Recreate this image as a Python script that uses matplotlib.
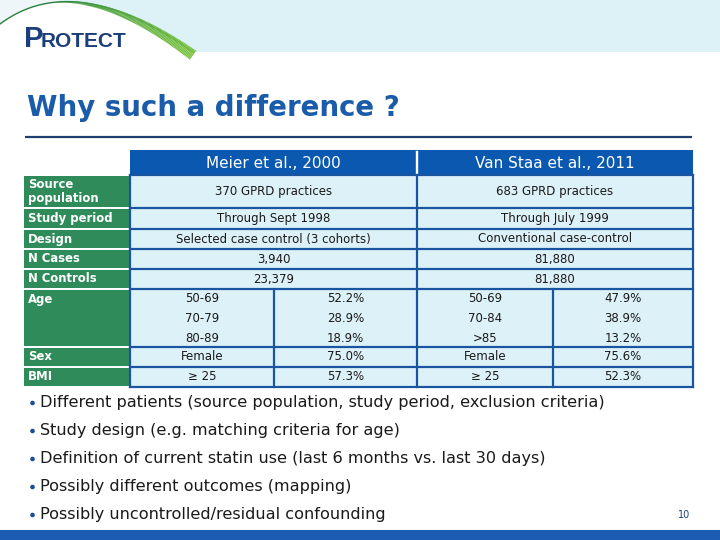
import numpy as np
import matplotlib
matplotlib.use("Agg")
import matplotlib.pyplot as plt
from matplotlib.patches import Rectangle, Polygon, Circle
from matplotlib.collections import LineCollection

# ---------------- data ----------------
title = "Why such a difference ?"
studies = ["Meier et al., 2000", "Van Staa et al., 2011"]
row_labels = ["Source\npopulation", "Study period", "Design", "N Cases", "N Controls", "Age", "Sex", "BMI"]
meier_simple = ["370 GPRD practices", "Through Sept 1998", "Selected case control (3 cohorts)", "3,940", "23,379"]
vanstaa_simple = ["683 GPRD practices", "Through July 1999", "Conventional case-control", "81,880", "81,880"]
meier_age_groups = ["50-69", "70-79", "80-89"]
meier_age_pct = ["52.2%", "28.9%", "18.9%"]
vanstaa_age_groups = ["50-69", "70-84", ">85"]
vanstaa_age_pct = ["47.9%", "38.9%", "13.2%"]
meier_sex = ["Female", "75.0%"]
vanstaa_sex = ["Female", "75.6%"]
meier_bmi = ["\u2265 25", "57.3%"]
vanstaa_bmi = ["\u2265 25", "52.3%"]
bullets = [
    "Different patients (source population, study period, exclusion criteria)",
    "Study design (e.g. matching criteria for age)",
    "Definition of current statin use (last 6 months vs. last 30 days)",
    "Possibly different outcomes (mapping)",
    "Possibly uncontrolled/residual confounding",
]
page_number = "10"

# ---------------- layout ----------------
W, H = 720, 540
fig = plt.figure(figsize=(7.2, 5.4), dpi=100)
ax = fig.add_axes([0, 0, 1, 1])
ax.set_xlim(0, W)
ax.set_ylim(H, 0)
ax.axis("off")

title_blue = "#1A5BAA"
header_blue = "#0B58B0"
border_blue = "#1A56A0"
cell_bg = "#DDF1F8"
green = "#2F8C5A"
banner = "#DDF2F7"
px = 0.72  # points per pixel

# banner
ax.add_patch(Rectangle((0, 0), W, 52, facecolor=banner, edgecolor="none", zorder=1))

# logo arc (quadratic bezier)
P0, P1, P2 = np.array([0, 24.0]), np.array([75, -32.0]), np.array([193, 52.0])
t = np.linspace(0, 1, 200)
curve = ((1 - t)[:, None] ** 2) * P0 + (2 * (1 - t) * t)[:, None] * P1 + (t[:, None] ** 2) * P2
poly = np.vstack([curve, [[193, 52], [0, 52]]])
ax.add_patch(Polygon(poly, closed=True, facecolor="white", edgecolor="none", zorder=2))
ax.add_patch(Rectangle((0, 0), 60, 20, facecolor="#EEF6F9", edgecolor="none", zorder=1.5))
# thin dark arc
ax.plot(curve[:, 0], curve[:, 1], color="#2B7F3C", lw=1.0, zorder=3)
# thick green band
segs = [curve[i:i + 2] for i in range(len(curve) - 1)]
tt = t[:-1]
v = np.clip((tt - 0.3) / 0.7, 0, 1)
widths = v ** 1.1 * 11.0 * px
cols = [(0.17 + 0.32 * a, 0.55 + 0.22 * a, 0.24 + 0.02 * a) for a in v]
segs2 = [s + np.array([0, 3.2]) * a for s, a in zip(segs, v)]
ax.add_collection(LineCollection(segs2, linewidths=widths, colors=cols, zorder=3, capstyle="butt"))

# logo text
ax.text(24, 47, "P", fontsize=21, fontweight="bold", color="#1B3F7A", family="Liberation Sans",
        va="baseline", ha="left", zorder=4)
ax.text(41, 47, "ROTECT", fontsize=15, fontweight="bold", color="#1B3F7A", family="Liberation Sans",
        va="baseline", ha="left", zorder=4)

# title
ax.text(27, 116, title, fontsize=19.9, fontweight="bold", color=title_blue, family="DejaVu Sans",
        va="baseline", ha="left")
ax.plot([25, 692], [137, 137], color="#1C3F70", lw=2.2 * px, solid_capstyle="butt")

# table geometry
x_lab0, x_lab1 = 24, 130
x_mid, x_right = 417, 693
x_msplit, x_vsplit = 274, 553
y_head0, y_head1 = 150, 175
row_tops = [175, 208, 229, 249, 269, 289, 347, 367]
y_bottom = 387
row_bots = row_tops[1:] + [y_bottom]

# header
ax.add_patch(Rectangle((x_lab1, y_head0), x_right - x_lab1, y_head1 - y_head0,
                       facecolor=header_blue, edgecolor="none", zorder=2))
ax.plot([x_mid, x_mid], [152, 173], color="white", lw=2.4 * px, zorder=3)
ax.text((x_lab1 + x_mid) / 2, 163, studies[0], fontsize=11, color="white", ha="center", va="center", zorder=4)
ax.text((x_mid + x_right) / 2, 163, studies[1], fontsize=11, color="white", ha="center", va="center", zorder=4)

# data area background
ax.add_patch(Rectangle((x_lab1, y_head1), x_right - x_lab1, y_bottom - y_head1,
                       facecolor=cell_bg, edgecolor="none", zorder=1))

# green label cells
lab_fs = 8.4
for lab, y0, y1 in zip(row_labels, row_tops, row_bots):
    ax.add_patch(Rectangle((x_lab0, y0 + 1), x_lab1 - x_lab0 - 1, y1 - y0 - 2,
                           facecolor=green, edgecolor="none", zorder=2))
    yc = 299 if lab == "Age" else (y0 + y1) / 2
    ax.text(28, yc, lab, fontsize=lab_fs, fontweight="bold", color="white",
            ha="left", va="center", linespacing=1.1, zorder=4)

# grid lines
lw = 2.2 * px
for y in row_tops + [y_bottom]:
    ax.plot([x_lab1, x_right], [y, y], color=border_blue, lw=lw, zorder=3, solid_capstyle="projecting")
for x in [x_lab1, x_mid, x_right]:
    ax.plot([x, x], [y_head1, y_bottom], color=border_blue, lw=lw, zorder=3)
for x in [x_msplit, x_vsplit]:
    ax.plot([x, x], [row_tops[5], y_bottom], color=border_blue, lw=lw, zorder=3)

fs = 8.5
tc = "#1A1A1A"
cm = (x_lab1 + x_mid) / 2
cv = (x_mid + x_right) / 2
for i in range(5):
    yc = (row_tops[i] + row_bots[i]) / 2
    ax.text(cm, yc, meier_simple[i], fontsize=fs, color=tc, ha="center", va="center", zorder=4)
    ax.text(cv, yc, vanstaa_simple[i], fontsize=fs, color=tc, ha="center", va="center", zorder=4)

c1 = (x_lab1 + x_msplit) / 2
c2 = (x_msplit + x_mid) / 2
c3 = (x_mid + x_vsplit) / 2
c4 = (x_vsplit + x_right) / 2
age_y = [299, 318.5, 338]
for j, y in enumerate(age_y):
    ax.text(c1, y, meier_age_groups[j], fontsize=fs, color=tc, ha="center", va="center", zorder=4)
    ax.text(c2, y, meier_age_pct[j], fontsize=fs, color=tc, ha="center", va="center", zorder=4)
    ax.text(c3, y, vanstaa_age_groups[j], fontsize=fs, color=tc, ha="center", va="center", zorder=4)
    ax.text(c4, y, vanstaa_age_pct[j], fontsize=fs, color=tc, ha="center", va="center", zorder=4)
for k, (mv, vv) in enumerate([(meier_sex, vanstaa_sex), (meier_bmi, vanstaa_bmi)]):
    yc = (row_tops[6 + k] + row_bots[6 + k]) / 2
    ax.text(c1, yc, mv[0], fontsize=fs, color=tc, ha="center", va="center", zorder=4)
    ax.text(c2, yc, mv[1], fontsize=fs, color=tc, ha="center", va="center", zorder=4)
    ax.text(c3, yc, vv[0], fontsize=fs, color=tc, ha="center", va="center", zorder=4)
    ax.text(c4, yc, vv[1], fontsize=fs, color=tc, ha="center", va="center", zorder=4)

# bullets
for i, b in enumerate(bullets):
    y = 403 + 28 * i
    ax.add_patch(Circle((32.5, y), 2.3, facecolor="#1A4F8F", edgecolor="none", zorder=4))
    ax.text(40, y, b, fontsize=11.6, color="#1A1A1A", family="DejaVu Sans",
            ha="left", va="center", zorder=4)

ax.text(684, 515, page_number, fontsize=7, color="#1C3F70", ha="center", va="center")

# bottom bar
ax.add_patch(Rectangle((0, 530), W, 10, facecolor="#1C5DB3", edgecolor="none", zorder=2))

fig.savefig("out.png", dpi=100)
